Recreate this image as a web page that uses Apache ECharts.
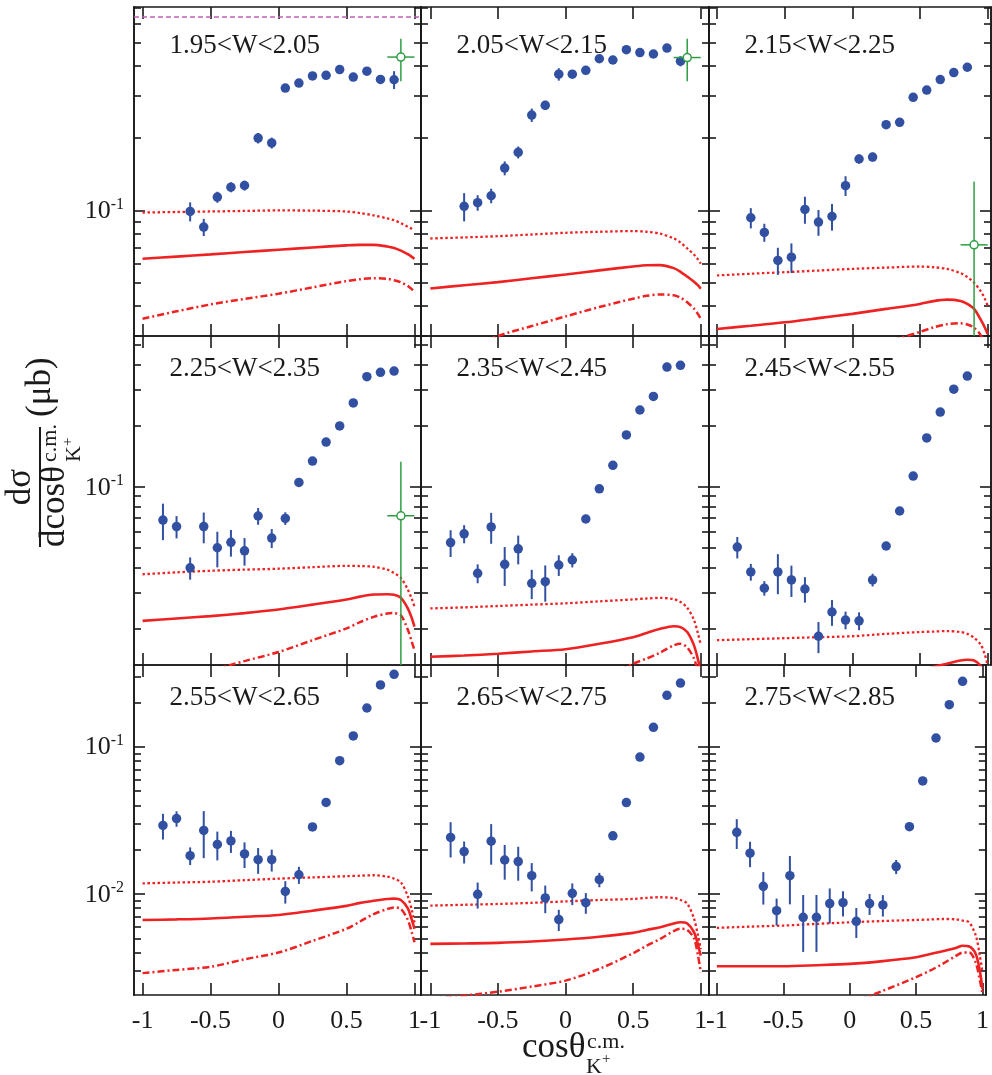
<!DOCTYPE html>
<html>
<head>
<meta charset="utf-8">
<title>K+ angular distributions</title>
<script src="https://cdn.jsdelivr.net/npm/echarts@6/dist/echarts.min.js"></script>
<style>
  html, body { margin: 0; padding: 0; background: #fff; }
  #main { width: 992px; height: 1075px; }
</style>
</head>
<body>
<div id="main"></div>
<script type="text/javascript">

// bins of cos(theta), one point per bin
var cosBins = [-0.85, -0.75, -0.65, -0.55, -0.45, -0.35, -0.25, -0.15, -0.05,
               0.05, 0.15, 0.25, 0.35, 0.45, 0.55, 0.65, 0.75, 0.85];
var wLabels = ['1.95<W<2.05', '2.05<W<2.15', '2.15<W<2.25',
               '2.25<W<2.35', '2.35<W<2.45', '2.45<W<2.55',
               '2.55<W<2.65', '2.65<W<2.75', '2.75<W<2.85'];
var xTicks = [-1, -0.5, 0, 0.5, 1];

// data points (ub) and errors
var sig1 = [null, null, 0.099, 0.0852, 0.1136, 0.125, 0.127, 0.2, 0.191, 0.323, 0.339, 0.363, 0.365, 0.386, 0.359, 0.380, 0.351, 0.350];
var err1 = [null, null, 0.009, 0.007, 0.006, 0.006, 0.006, 0.01, 0.01, 0.006, 0.006, 0.006, 0.006, 0.006, 0.006, 0.006, 0.01, 0.03];
var sig2 = [null, 0.104, 0.1077, 0.1151, 0.150, 0.1745, 0.2495, 0.274, 0.369, 0.369, 0.383, 0.428, 0.423, 0.467, 0.454, 0.448, 0.474, 0.418];
var err2 = [null, 0.014, 0.008, 0.008, 0.01, 0.01, 0.016, 0.012, 0.022, 0.01, 0.008, 0.012, 0.008, 0.006, 0.006, 0.006, 0.006, 0.02];
var sig3 = [null, 0.0932, 0.081, 0.0619, 0.0639, 0.101, 0.0894, 0.0944, 0.1268, 0.1637, 0.1668, 0.2275, 0.2326, 0.2958, 0.317, 0.3505, 0.375, 0.3945];
var err3 = [null, 0.009, 0.007, 0.008, 0.009, 0.013, 0.011, 0.012, 0.012, 0.007, 0.007, 0.005, 0.005, 0.005, 0.005, 0.005, 0.005, 0.005];
var sig4 = [0.0685, 0.0636, 0.0398, 0.0636, 0.05, 0.0532, 0.0483, 0.0717, 0.0558, 0.0698, 0.105, 0.1339, 0.166, 0.1995, 0.259, 0.349, 0.3667, 0.3722];
var err4 = [0.014, 0.008, 0.005, 0.011, 0.010, 0.008, 0.0075, 0.0068, 0.006, 0.005, 0.004, 0.004, 0.004, 0.004, 0.005, 0.005, 0.005, 0.005];
var sig5 = [0.053, 0.0586, 0.0374, 0.0633, 0.0414, 0.0494, 0.0334, 0.034, 0.0411, 0.0435, 0.0693, 0.0977, 0.1275, 0.18, 0.239, 0.279, 0.3895, 0.397];
var err5 = [0.008, 0.006, 0.004, 0.011, 0.009, 0.008, 0.0055, 0.0069, 0.0048, 0.0035, 0.003, 0.002, 0.002, 0.003, 0.004, 0.005, 0.006, 0.006];
var sig6 = [0.0504, 0.038, 0.0316, 0.038, 0.0347, 0.0313, 0.0183, 0.0241, 0.022, 0.0218, 0.0347, 0.051, 0.0759, 0.1129, 0.174, 0.2336, 0.303, 0.3514];
var err6 = [0.0061, 0.0036, 0.0026, 0.0085, 0.0061, 0.0045, 0.0032, 0.0035, 0.0022, 0.0022, 0.0025, 0.002, 0.002, 0.002, 0.003, 0.004, 0.005, 0.005];
var sig7 = [0.0292, 0.0325, 0.0182, 0.027, 0.0217, 0.0229, 0.0187, 0.0171, 0.0171, 0.0104, 0.0135, 0.0285, 0.0418, 0.0803, 0.1183, 0.183, 0.2624, 0.31];
var err7 = [0.0058, 0.0039, 0.0025, 0.0095, 0.0048, 0.0039, 0.0037, 0.0034, 0.0029, 0.0018, 0.0018, 0.001, 0.001, 0.001, 0.002, 0.003, 0.004, 0.005];
var sig8 = [0.0242, 0.0194, 0.00995, 0.0228, 0.017, 0.0166, 0.0133, 0.0094, 0.0067, 0.0101, 0.00873, 0.0125, 0.0248, 0.0417, 0.085, 0.1353, 0.223, 0.2704];
var err8 = [0.0065, 0.0033, 0.002, 0.007, 0.0045, 0.0043, 0.0029, 0.002, 0.0011, 0.0017, 0.0014, 0.0014, 0.001, 0.001, 0.002, 0.003, 0.004, 0.005];
var sig9 = [0.0262, 0.0189, 0.01127, 0.0077, 0.0133, 0.00694, 0.00694, 0.0086, 0.00873, 0.00652, 0.0086, 0.00842, 0.01533, 0.0286, 0.0585, 0.1145, 0.1928, 0.2776];
var err9 = [0.006, 0.0037, 0.0028, 0.0016, 0.0048, 0.0029, 0.0029, 0.0023, 0.0017, 0.0015, 0.0014, 0.0014, 0.0017, 0.001, 0.002, 0.003, 0.004, 0.005];

// model curves sampled at curveX : dotted, solid, dash-dot
var curveX = [-1, -0.75, -0.5, -0.25, 0, 0.25, 0.5, 0.6, 0.7, 0.8, 0.85, 0.9, 0.95, 0.98, 1.0];
var dot1 = [0.098, 0.0985, 0.099, 0.0995, 0.1, 0.0998, 0.099, 0.0975, 0.0953, 0.0926, 0.091, 0.0885, 0.0855, 0.0838, 0.0825];
var sol1 = [0.0629, 0.0642, 0.0656, 0.0671, 0.0686, 0.0701, 0.0715, 0.0719, 0.0719, 0.0708, 0.0698, 0.068, 0.0657, 0.0641, 0.0629];
var dd1  = [0.0354, 0.038, 0.0406, 0.0428, 0.045, 0.0478, 0.0508, 0.0517, 0.0522, 0.0519, 0.0512, 0.0502, 0.0485, 0.047, 0.0457];
var dot2 = [0.0764, 0.0772, 0.0781, 0.0794, 0.0807, 0.0815, 0.082, 0.0815, 0.08, 0.0765, 0.0735, 0.0695, 0.0655, 0.0625, 0.06];
var sol2 = [0.0473, 0.0488, 0.0503, 0.0522, 0.0541, 0.0563, 0.0584, 0.0591, 0.0592, 0.0575, 0.0555, 0.053, 0.0505, 0.0487, 0.0472];
var dd2  = [0.022, 0.026, 0.03, 0.033, 0.0362, 0.0396, 0.0429, 0.0441, 0.0447, 0.0443, 0.0433, 0.0415, 0.039, 0.037, 0.0354];
var dot3 = [0.0536, 0.0545, 0.0553, 0.0562, 0.0571, 0.0578, 0.0584, 0.058, 0.0571, 0.0548, 0.0528, 0.05, 0.046, 0.0428, 0.0402];
var sol3 = [0.0321, 0.0331, 0.0342, 0.0356, 0.0371, 0.0389, 0.0408, 0.0419, 0.0425, 0.042, 0.0408, 0.0389, 0.035, 0.0325, 0.0306];
var dd3  = [0.013, 0.0155, 0.018, 0.0215, 0.0248, 0.0282, 0.0312, 0.0326, 0.0336, 0.0339, 0.0335, 0.0325, 0.0302, 0.0277, 0.025];
var dot4 = [0.037, 0.0378, 0.0385, 0.039, 0.0394, 0.0401, 0.0407, 0.0406, 0.0403, 0.039, 0.0375, 0.0355, 0.0312, 0.028, 0.0256];
var sol4 = [0.0218, 0.0224, 0.023, 0.0238, 0.0248, 0.0262, 0.0278, 0.0287, 0.0294, 0.0295, 0.0293, 0.0283, 0.0252, 0.0225, 0.0204];
var dd4  = [0.0098, 0.011, 0.0124, 0.0138, 0.0153, 0.0175, 0.02, 0.0215, 0.0228, 0.0237, 0.0238, 0.0232, 0.0198, 0.0172, 0.0156];
var dot5 = [0.0251, 0.0254, 0.0258, 0.0262, 0.0266, 0.0272, 0.0278, 0.0281, 0.0283, 0.0279, 0.027, 0.0253, 0.022, 0.0188, 0.0166];
var sol5 = [0.0145, 0.0147, 0.015, 0.0154, 0.0158, 0.0168, 0.0181, 0.019, 0.0199, 0.0205, 0.0203, 0.0192, 0.0165, 0.014, 0.0122];
var dd5  = [0.0045, 0.0054, 0.0065, 0.0077, 0.009, 0.011, 0.0134, 0.0142, 0.0152, 0.0165, 0.0168, 0.0161, 0.0142, 0.0122, 0.011];
var dot6 = [0.0175, 0.0177, 0.0179, 0.0181, 0.0183, 0.0188, 0.0192, 0.0193, 0.0194, 0.0192, 0.0188, 0.018, 0.0166, 0.0148, 0.0132];
var sol6 = [0.0095, 0.0097, 0.01, 0.0103, 0.0106, 0.0115, 0.0124, 0.0129, 0.0134, 0.0139, 0.014, 0.0139, 0.013, 0.0118, 0.011];
var dd6  = [0.003, 0.0035, 0.004, 0.0045, 0.005, 0.0062, 0.0075, 0.0085, 0.0095, 0.0112, 0.0117, 0.0118, 0.0112, 0.01, 0.009];
var dot7 = [0.0118, 0.01195, 0.0121, 0.0124, 0.0127, 0.01295, 0.0132, 0.0133, 0.0134, 0.0131, 0.0127, 0.012, 0.0097, 0.0078, 0.0064];
var sol7 = [0.00665, 0.00672, 0.00682, 0.007, 0.00719, 0.0077, 0.0083, 0.0087, 0.009, 0.00925, 0.0093, 0.0091, 0.008, 0.0067, 0.0058];
var dd7  = [0.0029, 0.00305, 0.0032, 0.0036, 0.004, 0.0048, 0.0058, 0.0065, 0.0073, 0.0079, 0.0081, 0.0079, 0.0067, 0.0055, 0.0047];
var dot8 = [0.00833, 0.00844, 0.00855, 0.0087, 0.0089, 0.0091, 0.00925, 0.0094, 0.0095, 0.0094, 0.0091, 0.0086, 0.0068, 0.0052, 0.00423];
var sol8 = [0.00458, 0.00461, 0.00465, 0.00475, 0.0049, 0.00512, 0.00544, 0.0057, 0.00594, 0.0063, 0.00642, 0.0063, 0.0055, 0.0045, 0.00381];
var dd8  = [0.00194, 0.00204, 0.00217, 0.00235, 0.00258, 0.0031, 0.00396, 0.00445, 0.00495, 0.0056, 0.0058, 0.0057, 0.005, 0.0038, 0.00294];
var dot9 = [0.00588, 0.006, 0.0061, 0.00626, 0.00642, 0.00655, 0.00666, 0.0067, 0.00676, 0.00672, 0.0066, 0.0064, 0.0052, 0.0038, 0.00294];
var sol9 = [0.00323, 0.00323, 0.00323, 0.00328, 0.00335, 0.0035, 0.00372, 0.0039, 0.00408, 0.0043, 0.00445, 0.0044, 0.0039, 0.003, 0.00226];
var dd9  = [0.001, 0.0011, 0.0012, 0.0015, 0.0018, 0.0022, 0.00272, 0.003, 0.00335, 0.0038, 0.004, 0.004, 0.0034, 0.0026, 0.0021];

// open green points (panel index, value, error band)
var greenPanels = [0, 1, 2, 3];
var greenX  = [0.9, 0.9, 0.9, 0.9];
var greenY  = [0.435, 0.433, 0.0719, 0.0719];
var greenLo = [0.345, 0.345, 0.015, 0.006];
var greenHi = [0.519, 0.519, 0.132, 0.1328];
var greenDx = 0.1;
var pinkLevel = 0.635;

// layout
var colLeft = [134, 421, 709], colRight = [421, 709, 991];
var rowTop = [7, 336, 665], rowBottom = [336, 665, 995];
var xMin = [-1.063, -1.069, -1.059], xMax = [1.048, 1.061, 1.025];
var yMin = [0.03, 0.0132, 0.00206], yMax = [0.703, 0.554, 0.3585];
var majorTicks = [[0.1], [0.1], [0.01, 0.1]];
var labelDy = [39, 33, 33];

var FONT = 'Liberation Serif';
var INK = '#1a1a1a';
var RED = '#ee2222';
var BLUE = '#3250a2';
var GREEN = '#2e9e44';
var axisStyle = { color: INK, width: 1.6 };

var sigs = [sig1, sig2, sig3, sig4, sig5, sig6, sig7, sig8, sig9];
var errs = [err1, err2, err3, err4, err5, err6, err7, err8, err9];
var dots = [dot1, dot2, dot3, dot4, dot5, dot6, dot7, dot8, dot9];
var sols = [sol1, sol2, sol3, sol4, sol5, sol6, sol7, sol8, sol9];
var dds  = [dd1, dd2, dd3, dd4, dd5, dd6, dd7, dd8, dd9];

function minorTicks(lo, hi, majors) {
	var res = [];
	for (var e = -4; e <= 0; e++) {
		for (var k = 1; k <= 9; k++) {
			var v = +(k * Math.pow(10, e)).toPrecision(6);
			if (v >= lo && v <= hi && majors.indexOf(v) < 0) res.push(v);
		}
	}
	return res;
}

function curve(vals) {
	return curveX.map(function (x, i) { return [x, vals[i]]; });
}

function renderBar(params, api) {
	var cs = params.coordSys;
	var a = api.coord([api.value(0), api.value(2)]);
	var b = api.coord([api.value(0), api.value(1)]);
	return {
		type: 'line',
		shape: { x1: a[0], y1: Math.max(a[1], cs.y), x2: b[0], y2: Math.min(b[1], cs.y + cs.height) },
		style: { stroke: api.visual('color'), lineWidth: 2 }
	};
}

function renderCross(params, api) {
	var cs = params.coordSys;
	var x = api.value(0), y = api.value(1);
	var a = api.coord([x, api.value(3)]);
	var b = api.coord([x, api.value(2)]);
	var l = api.coord([x - api.value(4), y]);
	var r = api.coord([x + api.value(4), y]);
	var st = { stroke: api.visual('color'), lineWidth: 1.5 };
	return {
		type: 'group',
		children: [
			{ type: 'line', shape: { x1: a[0], y1: Math.max(a[1], cs.y), x2: b[0], y2: Math.min(b[1], cs.y + cs.height) }, style: st },
			{ type: 'line', shape: { x1: l[0], y1: l[1], x2: r[0], y2: r[1] }, style: st }
		]
	};
}

function powLabel(v) {
	var e = Math.round(Math.log(v) / Math.LN10);
	return '{b|10}{s|' + e + '}';
}

var grids = [], xAxes = [], yAxes = [], series = [], graphics = [];

for (var p = 0; p < 9; p++) {
	var r = Math.floor(p / 3), c = p % 3;
	grids.push({
		left: colLeft[c], top: rowTop[r],
		width: colRight[c] - colLeft[c], height: rowBottom[r] - rowTop[r]
	});

	// x axes: bottom and top
	['bottom', 'top'].forEach(function (pos) {
		xAxes.push({
			type: 'value', gridIndex: p, position: pos,
			min: xMin[c], max: xMax[c],
			axisLine: { show: true, onZero: false, lineStyle: axisStyle },
			axisTick: { show: true, inside: true, length: 12, customValues: xTicks, lineStyle: axisStyle },
			axisLabel: {
				show: pos === 'bottom' && r === 2, customValues: xTicks, margin: 13,
				fontFamily: FONT, fontSize: 26, color: INK,
				formatter: function (v) { return String(v); }
			},
			splitLine: { show: false }
		});
	});

	// y axes: left/right, major/minor
	var majors = majorTicks[r];
	var minors = minorTicks(yMin[r], yMax[r], majors);
	[['left', majors, 11, c === 0], ['left', minors, 7, false],
	 ['right', majors, 11, false], ['right', minors, 7, false]].forEach(function (d) {
		yAxes.push({
			type: 'log', logBase: 10, gridIndex: p, position: d[0],
			min: yMin[r], max: yMax[r],
			axisLine: { show: true, onZero: false, lineStyle: axisStyle },
			axisTick: { show: true, inside: true, length: d[2], customValues: d[1], lineStyle: axisStyle },
			axisLabel: {
				show: d[3], customValues: d[1], margin: 10,
				formatter: powLabel,
				rich: {
					b: { fontFamily: FONT, fontSize: 26, color: INK, verticalAlign: 'bottom' },
					s: { fontFamily: FONT, fontSize: 16, color: INK, verticalAlign: 'bottom', padding: [0, 0, 12, 0] }
				}
			},
			splitLine: { show: false },
			minorTick: { show: false }
		});
	});

	var xi = 2 * p, yi = 4 * p;

	// model curves
	var dotted = {
		type: 'line', xAxisIndex: xi, yAxisIndex: yi, data: curve(dots[p]),
		symbol: 'none', smooth: 0.3, silent: true, z: 2,
		lineStyle: { color: RED, width: 2.3, type: [2.5, 2.5] }
	};
	if (p === 0) {
		dotted.markLine = {
			silent: true, symbol: ['none', 'none'], label: { show: false },
			lineStyle: { color: '#c25fb4', type: [5, 3], width: 1.5, opacity: 1 },
			emphasis: { disabled: true },
			data: [{ yAxis: pinkLevel }]
		};
	}
	series.push(dotted);
	series.push({
		type: 'line', xAxisIndex: xi, yAxisIndex: yi, data: curve(sols[p]),
		symbol: 'none', smooth: 0.3, silent: true, z: 2,
		lineStyle: { color: RED, width: 2.6, type: 'solid' }
	});
	series.push({
		type: 'line', xAxisIndex: xi, yAxisIndex: yi, data: curve(dds[p]),
		symbol: 'none', smooth: 0.3, silent: true, z: 2,
		lineStyle: { color: RED, width: 2.5, type: [7, 3, 2, 3] }
	});

	// measured points
	var pts = [], bars = [];
	cosBins.forEach(function (x, i) {
		var v = sigs[p][i];
		if (v == null) return;
		pts.push([x, v]);
		bars.push([x, v - errs[p][i], v + errs[p][i]]);
	});
	series.push({
		type: 'custom', xAxisIndex: xi, yAxisIndex: yi, data: bars,
		renderItem: renderBar, itemStyle: { color: BLUE }, clip: true, silent: true, z: 3
	});
	series.push({
		type: 'scatter', xAxisIndex: xi, yAxisIndex: yi, data: pts,
		symbol: 'circle', symbolSize: 9.5, itemStyle: { color: BLUE, opacity: 1 }, silent: true, z: 4
	});

	// panel label
	graphics.push({
		type: 'text', x: colLeft[c] + 35.5, y: rowTop[r] + labelDy[r],
		style: {
			text: wLabels[p], font: '27px "Liberation Serif"', fill: INK,
			align: 'left', verticalAlign: 'middle', textAlign: 'left', textVerticalAlign: 'middle'
		}
	});
}

// open green points
greenPanels.forEach(function (gp, k) {
	series.push({
		type: 'custom', xAxisIndex: 2 * gp, yAxisIndex: 4 * gp,
		data: [[greenX[k], greenY[k], greenLo[k], greenHi[k], greenDx]],
		renderItem: renderCross, itemStyle: { color: GREEN }, clip: true, silent: true, z: 5
	});
	series.push({
		type: 'scatter', xAxisIndex: 2 * gp, yAxisIndex: 4 * gp,
		data: [[greenX[k], greenY[k]]], symbol: 'circle', symbolSize: 8, silent: true, z: 6,
		itemStyle: { color: '#fff', borderColor: GREEN, borderWidth: 1.5, opacity: 1 }
	});
});

function txt(x, y, s, size, align) {
	return {
		type: 'text', x: x, y: y,
		style: {
			text: s, font: size + 'px "Liberation Serif"', fill: INK,
			align: align || 'left', verticalAlign: 'middle',
			textAlign: align || 'left', textVerticalAlign: 'middle'
		}
	};
}

// y axis title, drawn unrotated then turned
graphics.push({
	type: 'group', x: 40, y: 487, rotation: Math.PI / 2,
	children: [
		{ type: 'line', shape: { x1: -60, y1: 0, x2: 60, y2: 0 }, style: { stroke: INK, lineWidth: 2 } },
		txt(0, -19, 'd\u03c3', 35, 'center'),
		txt(-60, 15, 'dcos\u03b8', 35),
		txt(25, 10.5, 'c.m.', 22),
		txt(25, 34.5, 'K', 22),
		txt(41, 28, '+', 15),
		txt(70, 1, '(\u03bcb)', 35)
	]
});

// x axis title
graphics.push(txt(522, 1048, 'cos\u03b8', 35));
graphics.push(txt(587, 1042, 'c.m.', 22));
graphics.push(txt(586, 1067, 'K', 22));
graphics.push(txt(602, 1059, '+', 15));

var option = {
	animation: false,
	backgroundColor: '#fff',
	grid: grids,
	xAxis: xAxes,
	yAxis: yAxes,
	series: series,
	graphic: graphics
};

var myChart = echarts.init(document.getElementById('main'));
myChart.setOption(option);
</script>
</body>
</html>
